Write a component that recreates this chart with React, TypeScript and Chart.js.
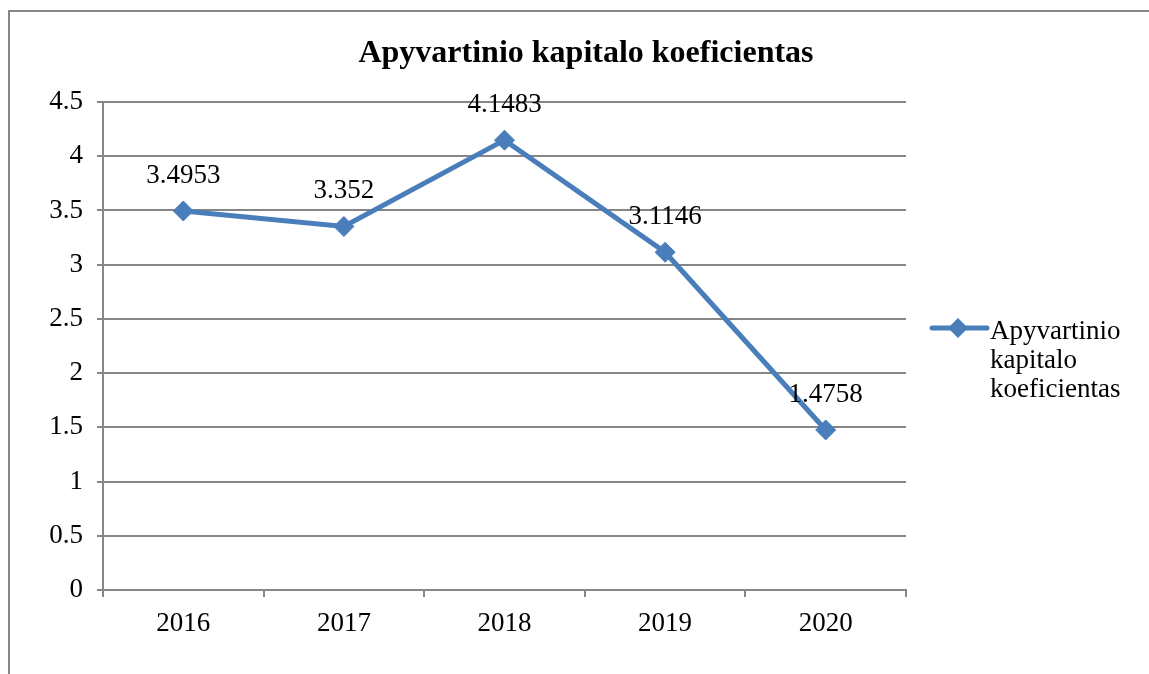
import React, { useEffect, useRef } from "react";
import { Chart, registerables } from "chart.js";

Chart.register(...registerables);

const title = "Apyvartinio kapitalo koeficientas";
const categories = ["2016", "2017", "2018", "2019", "2020"];
const values = [3.4953, 3.352, 4.1483, 3.1146, 1.4758];
const valueLabels = ["3.4953", "3.352", "4.1483", "3.1146", "1.4758"];
const legendLines = ["Apyvartinio", "kapitalo", "koeficientas"];
const yMin = 0;
const yMax = 4.5;
const yStep = 0.5;

const BLUE = "#4A7EBB";
const GRAY = "#868686";
const FONT = "'Liberation Serif', 'Times New Roman', serif";

export default function App() {
  const ref = useRef<HTMLCanvasElement>(null);

  useEffect(() => {
    if (!ref.current) return;
    const extras = {
      id: "extras",
      afterDatasetsDraw(chart: any) {
        const ctx = chart.ctx;
        const meta = chart.getDatasetMeta(0);
        ctx.save();
        // data labels
        ctx.fillStyle = "#000";
        ctx.font = `27px ${FONT}`;
        ctx.textAlign = "center";
        ctx.textBaseline = "alphabetic";
        meta.data.forEach((pt: any, i: number) => {
          ctx.fillText(valueLabels[i], pt.x, pt.y - 28);
        });
        // title
        ctx.font = `bold 32px ${FONT}`;
        ctx.fillText(title, 586, 62);
        // legend
        const ly = 328;
        ctx.strokeStyle = BLUE;
        ctx.lineWidth = 5;
        ctx.lineCap = "round";
        ctx.beginPath();
        ctx.moveTo(932, ly);
        ctx.lineTo(987, ly);
        ctx.stroke();
        ctx.fillStyle = BLUE;
        ctx.beginPath();
        const r = 10;
        ctx.moveTo(958, ly - r);
        ctx.lineTo(958 + r, ly);
        ctx.lineTo(958, ly + r);
        ctx.lineTo(958 - r, ly);
        ctx.closePath();
        ctx.fill();
        ctx.fillStyle = "#000";
        ctx.font = `27px ${FONT}`;
        ctx.textAlign = "left";
        legendLines.forEach((t, i) => {
          ctx.fillText(t, 990, 339 + i * 29);
        });
        ctx.restore();
      },
    };

    const chart = new Chart(ref.current, {
      type: "line",
      data: {
        labels: categories,
        datasets: [
          {
            label: title,
            data: values,
            borderColor: BLUE,
            backgroundColor: BLUE,
            borderWidth: 5,
            pointStyle: "rectRot",
            pointRadius: 10,
            pointHoverRadius: 10,
            pointBackgroundColor: BLUE,
            pointBorderColor: BLUE,
            pointBorderWidth: 1,
            tension: 0,
          },
        ],
      },
      options: {
        animation: false,
        responsive: false,
        maintainAspectRatio: false,
        layout: { padding: { left: 0, right: 243, top: 102, bottom: 0 } },
        plugins: {
          legend: { display: false },
          title: { display: false },
          tooltip: { enabled: false },
        },
        scales: {
          x: {
            type: "category",
            offset: true,
            grid: {
              offset: true,
              drawOnChartArea: false,
              drawTicks: true,
              tickLength: 7,
              color: GRAY,
              lineWidth: 2,
            },
            border: { display: true, color: GRAY, width: 2 },
            ticks: {
              color: "#000",
              font: { family: FONT, size: 27 },
              padding: 11,
              maxRotation: 0,
            },
            afterFit(scale: any) {
              scale.height = 84;
            },
          },
          y: {
            min: yMin,
            max: yMax,
            ticks: {
              stepSize: yStep,
              color: "#000",
              font: { family: FONT, size: 27 },
              padding: 14,
              callback: (v: any) => String(Number(v)),
            },
            grid: {
              color: GRAY,
              lineWidth: 2,
              drawTicks: true,
              tickLength: 6,
            },
            border: { display: true, color: GRAY, width: 2 },
            afterFit(scale: any) {
              scale.width = 103;
            },
          },
        },
      },
      plugins: [extras],
    });
    return () => chart.destroy();
  }, []);

  return (
    <div style={{ position: "absolute", left: 0, top: 0, width: 1149, height: 674, overflow: "hidden", background: "#fff" }}>
      <div
        style={{
          position: "absolute",
          left: 8,
          top: 10,
          width: 1200,
          height: 700,
          borderLeft: `2px solid ${GRAY}`,
          borderTop: `2px solid ${GRAY}`,
        }}
      />
      <canvas ref={ref} width={1149} height={674} style={{ position: "absolute", left: 0, top: 0, width: 1149, height: 674 }} />
    </div>
  );
}
